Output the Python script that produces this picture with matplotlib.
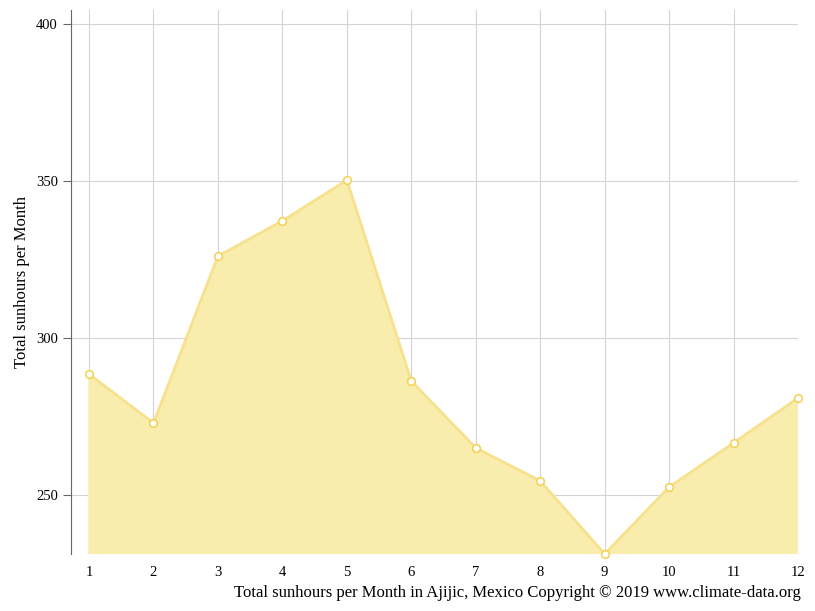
import matplotlib
matplotlib.use("Agg")
import matplotlib.pyplot as plt

months = list(range(1, 13))
sunhours = [288.5, 272.9, 326.1, 337.3, 350.3, 286.3, 265.0, 254.5, 231.2, 252.5, 266.6, 280.9]
yticks = [250, 300, 350, 400]

plt.rcParams['font.family'] = ['Liberation Serif', 'DejaVu Serif']
fig = plt.figure(figsize=(8.15, 6.11), dpi=100)
ax = fig.add_axes([71/815, 1-554/611, (798-71)/815, (554-10)/611])
ax.fill_between(months, sunhours, 0, color='#f9edae', zorder=2)
ax.plot(months, sunhours, color='#f7e18c', lw=2, zorder=3)
ax.plot(months, sunhours, 'o', ms=5.5, mfc='white', mec='#f3d35a', mew=1.2, zorder=4, clip_on=False)
ax.set_xlim(0.72, 12)
ax.set_ylim(min(sunhours), 404.5)
ax.set_xticks(months)
ax.set_yticks(yticks)
ax.grid(True, color='#d4d4d4', lw=0.8, zorder=1)
ax.set_axisbelow(True)
for s in ['top', 'right', 'bottom']:
    ax.spines[s].set_visible(False)
ax.spines['left'].set_color('#666666')
ax.tick_params(axis='x', length=0, pad=9, labelsize=10.5)
ax.tick_params(axis='y', length=6, color='#666666', labelsize=10.5)
ax.set_ylabel('Total sunhours per Month', fontsize=12)
fig.text(801/815, 1-593/611, 'Total sunhours per Month in Ajijic, Mexico Copyright © 2019 www.climate-data.org',
         ha='right', va='center', fontsize=12)
fig.savefig('out.png', dpi=100)
